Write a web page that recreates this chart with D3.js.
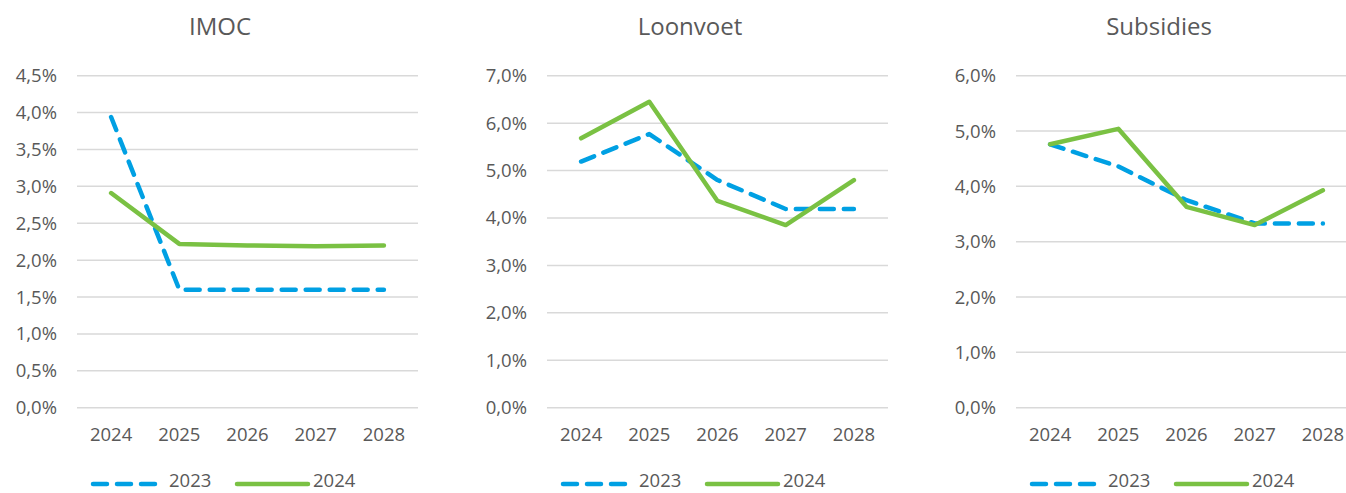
<!DOCTYPE html>
<html>
<head>
<meta charset="utf-8">
<script src="https://cdn.jsdelivr.net/npm/d3@7"></script>
<style>
  body { margin: 0; background: #fff; }
  svg text { font-family: "Open Sans", "Noto Sans", sans-serif; fill: #595959; }
</style>
</head>
<body>
<div id="chart"></div>
<script>
var years = ['2024', '2025', '2026', '2027', '2028'];
var seriesNames = ['2023', '2024'];

var titles = ['IMOC', 'Loonvoet', 'Subsidies'];
var yMax = [4.5, 7, 6];
var yStep = [0.5, 1, 1];

// values in %
var imoc2023 = [3.94, 1.60, 1.60, 1.60, 1.60];
var imoc2024 = [2.91, 2.22, 2.20, 2.19, 2.20];
var loon2023 = [5.19, 5.77, 4.80, 4.19, 4.19];
var loon2024 = [5.68, 6.45, 4.36, 3.85, 4.80];
var subs2023 = [4.76, 4.36, 3.75, 3.33, 3.33];
var subs2024 = [4.76, 5.04, 3.63, 3.30, 3.93];

var panels = [
    [imoc2023, imoc2024],
    [loon2023, loon2024],
    [subs2023, subs2024]
];

var colors = ['#00A0E3', '#7AC143'];

var W = 1346, H = 493;
var svg = d3.select('#chart').append('svg')
    .attr('width', W)
    .attr('height', H);

var panelLeft = [77, 547, 1016];
var plotW = 341;
var plotTop = 75.7, plotBottom = 407.7;

panels.forEach(function (data, p) {
    var g = svg.append('g').attr('transform', 'translate(' + panelLeft[p] + ',0)');

    var x = d3.scaleBand().domain(years).range([0, plotW]);
    var y = d3.scaleLinear().domain([0, yMax[p]]).range([plotBottom, plotTop]);
    var ticks = d3.range(0, yMax[p] + yStep[p] / 2, yStep[p]);

    // gridlines
    g.selectAll('.grid')
        .data(ticks)
        .enter()
        .append('line')
        .attr('x1', 0)
        .attr('x2', plotW)
        .attr('y1', function (d) { return y(d); })
        .attr('y2', function (d) { return y(d); })
        .style('stroke', '#d9d9d9')
        .style('stroke-width', 1.5);

    // y labels
    g.selectAll('.ylab')
        .data(ticks)
        .enter()
        .append('text')
        .attr('x', -20)
        .attr('y', function (d) { return y(d); })
        .attr('dy', '0.35em')
        .attr('text-anchor', 'end')
        .style('font-size', '18.5px')
        .text(function (d) { return d.toFixed(1).replace('.', ',') + '%'; });

    // x labels
    g.selectAll('.xlab')
        .data(years)
        .enter()
        .append('text')
        .attr('x', function (d) { return x(d) + x.bandwidth() / 2; })
        .attr('y', 435)
        .attr('dy', '0.35em')
        .attr('text-anchor', 'middle')
        .style('font-size', '18.5px')
        .text(function (d) { return d; });

    // title
    g.append('text')
        .attr('x', 143)
        .attr('y', 27)
        .attr('dy', '0.35em')
        .attr('text-anchor', 'middle')
        .style('font-size', '24px')
        .text(titles[p]);

    var line = d3.line()
        .x(function (d, i) { return x(years[i]) + x.bandwidth() / 2; })
        .y(function (d) { return y(d); });

    data.forEach(function (vals, s) {
        g.append('path')
            .datum(vals)
            .attr('d', line)
            .style('fill', 'none')
            .style('stroke', colors[s])
            .style('stroke-width', 4.5)
            .style('stroke-linecap', 'round')
            .style('stroke-linejoin', 'round')
            .style('stroke-dasharray', s === 0 ? '14,10' : null);
    });

    // legend
    var legX = [[16, 80], [160, 231]];
    var legText = [92, 236];
    seriesNames.forEach(function (name, s) {
        g.append('line')
            .attr('x1', legX[s][0])
            .attr('x2', legX[s][1])
            .attr('y1', 484)
            .attr('y2', 484)
            .style('stroke', colors[s])
            .style('stroke-width', 4.5)
            .style('stroke-linecap', 'round')
            .style('stroke-dasharray', s === 0 ? '14,10' : null);
        g.append('text')
            .attr('x', legText[s])
            .attr('y', 481)
            .attr('dy', '0.35em')
            .style('font-size', '18.5px')
            .text(name);
    });
});
</script>
</body>
</html>
